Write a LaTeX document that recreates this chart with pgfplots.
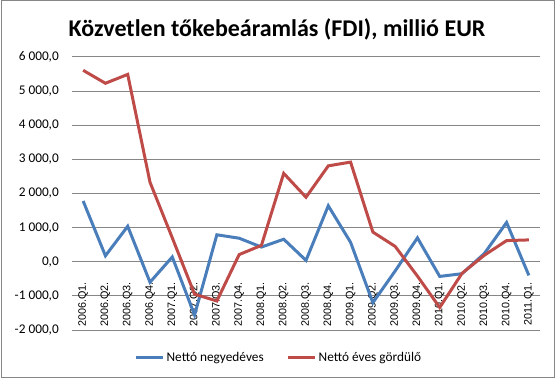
\documentclass[border=0pt]{standalone}
\usepackage{fontspec}
\setmainfont{Carlito}
\newfontfamily\arialf{Liberation Sans}
\usepackage{pgfplots}
\pgfplotsset{compat=1.18}
\definecolor{sblue}{HTML}{4A7EBB}
\definecolor{sred}{HTML}{BE4B48}
\definecolor{gridg}{HTML}{868686}
\begin{document}
\begin{tikzpicture}
\path (0pt,0pt) rectangle (556pt,380pt);
\draw[gridg, line width=1pt] (1pt,3pt) rectangle (554pt,379pt);
\node[font=\fontsize{24}{28}\selectfont\bfseries, anchor=base, inner sep=0pt] at (277pt,343.5pt) {Közvetlen tőkebeáramlás (FDI), millió EUR};
\begin{axis}[
  at={(72pt,50pt)}, anchor=south west,
  scale only axis, width=468pt, height=273pt,
  xmin=-0.5, xmax=20.5, ymin=-2000, ymax=6000,
  xtick={0,...,20},
  xticklabels={2006.Q1.,2006.Q2.,2006.Q3.,2006.Q4.,2007.Q1.,2007.Q2.,2007.Q3.,2007.Q4.,2008.Q1.,2008.Q2.,2008.Q3.,2008.Q4.,2009.Q1.,2009.Q2.,2009.Q3.,2009.Q4.,2010.Q1.,2010.Q2.,2010.Q3.,2010.Q4.,2011.Q1.},
  ytick={-2000,-1000,0,1000,2000,3000,4000,5000,6000},
  yticklabels={{-2 000,0},{-1 000,0},{0,0},{1 000,0},{2 000,0},{3 000,0},{4 000,0},{5 000,0},{6 000,0}},
  axis line style={draw=none},
  major tick length=0pt,
  tick style={draw=none},
  ymajorgrids, grid style={gridg, line width=1pt},
  xticklabel style={rotate=90, anchor=east, inner sep=0pt, font=\arialf\fontsize{10.8}{12}\selectfont},
  xticklabel shift=-48pt,
  yticklabel style={anchor=east, inner sep=0pt, xshift=-13pt, font=\fontsize{13.3}{15}\selectfont},
  legend columns=2,
  legend style={at={(0.442,-0.1)}, anchor=center, draw=none, fill=none, font=\fontsize{13.3}{15}\selectfont, /tikz/every even column/.append style={column sep=21pt}, inner sep=0pt},
  legend image code/.code={\draw[#1, line width=3pt] (0pt,0pt) -- (27pt,0pt);},
  legend cell align=left,
]
\addplot[sblue, line width=3pt] coordinates {
(0,1780) (1,175) (2,1040) (3,-600) (4,140) (5,-1560) (6,790) (7,690) (8,430) (9,660) (10,40) (11,1640) (12,570) (13,-1200) (14,-270) (15,700) (16,-430) (17,-350) (18,240) (19,1150) (20,-400)};
\addlegendentry{Nettó negyedéves}
\addplot[sred, line width=3pt] coordinates {
(0,5610) (1,5230) (2,5490) (3,2330) (4,700) (5,-950) (6,-1150) (7,210) (8,480) (9,2590) (10,1890) (11,2810) (12,2920) (13,870) (14,450) (15,-420) (16,-1340) (17,-340) (18,190) (19,620) (20,640)};
\addlegendentry{Nettó éves gördülő}
\end{axis}
\end{tikzpicture}
\end{document}
